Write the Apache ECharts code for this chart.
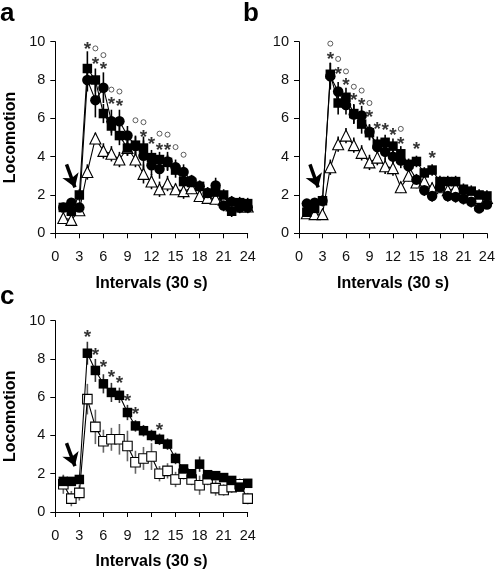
<!DOCTYPE html>
<html><head><meta charset="utf-8">
<script src="https://cdn.jsdelivr.net/npm/echarts@6/dist/echarts.min.js"></script>
<style>html,body{margin:0;padding:0;background:#fff}#c{width:498px;height:571px}</style>
</head><body><div id="c"></div>
<script>
const intervals = [1,2,3,4,5,6,7,8,9,10,11,12,13,14,15,16,17,18,19,20,21,22,23,24];
const xTicks = [0,3,6,9,12,15,18,21,24];
const yTicks = [0,2,4,6,8,10];

// Panel a
const aSquare = [1.35,1.15,2.0,8.6,8.0,6.25,5.6,5.1,4.45,4.6,4.45,3.95,3.85,3.7,3.3,2.7,2.65,2.45,2.1,2.15,2.0,1.15,1.6,1.55];
const aSquareErr = [0.2,0.2,0.3,0.9,0.6,0.5,0.5,0.5,0.4,0.5,0.6,0.4,0.4,0.4,0.4,0.3,0.3,0.3,0.3,0.3,0.3,0.3,0.3,0.3];
const aCircle = [1.35,1.6,1.35,8.0,6.95,7.6,5.85,5.85,5.1,4.55,4.05,3.55,3.35,3.75,3.45,3.2,2.75,2.45,2.1,2.5,1.45,1.65,1.35,1.35];
const aCircleErr = [0.2,0.2,0.2,0.6,0.9,0.8,0.6,0.6,0.5,0.5,0.8,0.5,0.5,0.5,0.4,0.4,0.3,0.3,0.3,0.4,0.3,0.3,0.3,0.3];
const aTriangle = [0.8,0.7,1.2,3.2,4.95,4.3,4.15,3.85,4.45,3.85,3.1,2.7,2.3,2.6,2.3,2.2,2.35,1.95,1.85,1.8,1.75,1.45,1.4,1.4];
const aTriangleErr = [0.2,0.2,0.2,0.4,0.3,0.4,0.4,0.4,0.4,0.4,0.5,0.4,0.4,0.4,0.3,0.4,0.3,0.3,0.3,0.3,0.3,0.3,0.3,0.3];
const aStarX = [4,5,6,7,8,11,12,13,14];
const aStarY = [9.8,9.0,8.75,6.9,6.8,5.2,4.85,4.5,4.5];
const aRingX = [4,5,6,7,8,10,11,13,14,15,16];
const aRingY = [10.5,9.65,9.3,7.5,7.4,5.9,5.8,5.2,5.15,4.5,4.1];

// Panel b
const bSquare = [1.1,1.3,1.7,8.3,6.8,7.1,6.25,5.7,5.25,4.65,4.75,4.55,4.15,3.6,3.75,3.15,3.3,2.7,2.7,2.7,2.3,2.2,2.0,1.95];
const bSquareErr = [0.2,0.3,0.3,0.6,0.6,0.5,0.5,0.5,0.4,0.4,0.4,0.4,0.4,0.3,0.3,0.3,0.3,0.3,0.3,0.3,0.3,0.3,0.3,0.3];
const bCircle = [1.55,1.6,1.7,8.2,7.4,6.7,6.2,6.15,5.3,4.5,4.25,4.0,3.8,3.5,2.8,2.25,1.95,2.4,1.95,1.9,1.8,1.65,1.3,1.5];
const bCircleErr = [0.2,0.2,0.2,0.7,0.5,0.5,0.5,0.5,0.4,0.4,0.4,0.4,0.4,0.3,0.3,0.3,0.3,0.3,0.3,0.3,0.3,0.3,0.2,0.2];
const bTriangle = [1.05,1.0,1.0,3.45,4.65,5.1,4.6,4.2,3.7,3.95,3.5,3.4,2.4,3.0,2.65,2.7,2.35,2.4,2.25,2.35,2.0,2.0,1.85,1.85];
const bTriangleErr = [0.1,0.1,0.1,0.4,0.4,0.4,0.4,0.4,0.4,0.4,0.4,0.4,0.3,0.3,0.3,0.3,0.3,0.3,0.3,0.3,0.3,0.3,0.3,0.3];
const bStarX = [4,5,6,7,8,9,10,11,12,13,15,17];
const bStarY = [9.25,8.5,7.9,7.15,6.85,6.25,5.6,5.55,5.3,4.85,4.55,4.1];
const bRingX = [4,5,6,7,8,9,13];
const bRingY = [9.9,9.1,8.45,7.65,7.45,6.8,5.45];

// Panel c
const cFilled = [1.6,1.6,1.7,8.3,7.4,6.7,6.25,6.1,5.2,4.5,4.25,4.0,3.8,3.55,2.8,2.25,2.0,2.5,1.95,1.9,1.8,1.65,1.3,1.5];
const cFilledErr = [0.3,0.2,0.2,0.6,0.6,0.5,0.5,0.4,0.4,0.3,0.3,0.3,0.3,0.3,0.3,0.2,0.2,0.4,0.2,0.2,0.2,0.2,0.2,0.2];
const cOpen = [1.45,0.7,1.0,5.9,4.45,3.7,3.8,3.8,3.45,2.6,2.8,2.9,2.0,2.15,1.7,2.0,1.7,1.4,1.7,1.25,1.15,1.3,1.45,0.7];
const cOpenErr = [0.5,0.4,0.4,0.8,0.9,0.6,0.6,0.8,0.8,0.6,0.6,0.7,0.4,0.4,0.4,0.3,0.3,0.5,0.3,0.4,0.3,0.3,0.3,0.3];
const cStarX = [4,5,6,7,8,9,10,13];
const cStarY = [9.3,8.35,7.75,7.2,6.9,5.95,5.3,4.45];

const arrowFrom = [1.4, 3.6];
const arrowTo = [2.45, 2.4];

const FONT = '"Liberation Sans", Arial, sans-serif';
const chart = echarts.init(document.getElementById('c'), null, {renderer:'canvas'});

const grids = [
  {left:55.3, top:41.7, width:192.4, height:191.6},
  {left:299, top:41.7, width:191.7, height:191.6},
  {left:55.3, top:320.7, width:192.4, height:192.6}
];
const xAxes = grids.map((g,i)=>({
  type:'value', gridIndex:i, min:xTicks[0], max:xTicks[xTicks.length-1], interval:3,
  axisLine:{lineStyle:{color:'#000',width:1}},
  axisTick:{show:true,inside:false,length:5,lineStyle:{color:'#000'}},
  axisLabel:{color:'#111',fontSize:14.5,fontFamily:FONT,margin:16},
  splitLine:{show:false},
  name:'Intervals (30 s)', nameLocation:'middle', nameGap:42,
  nameTextStyle:{fontSize:16,fontWeight:'bold',fontFamily:FONT,color:'#000'}
}));
const yAxes = grids.map((g,i)=>({
  type:'value', gridIndex:i, min:yTicks[0], max:yTicks[yTicks.length-1], interval:2,
  axisLine:{show:true,lineStyle:{color:'#000',width:1}},
  axisTick:{show:true,inside:false,length:5,lineStyle:{color:'#000'}},
  axisLabel:{color:'#111',fontSize:14.5,fontFamily:FONT,margin:10},
  splitLine:{show:false},
  name: i===1 ? '' : 'Locomotion', nameLocation:'middle', nameGap:37, nameRotate:90,
  nameTextStyle:{fontSize:16,fontWeight:'bold',fontFamily:FONT,color:'#000'}
}));

function pairs(xs, ys){ return xs.map((x,i)=>[x, ys[i]]); }

function errSeries(g, vals, errs, color){
  return {
    type:'custom', xAxisIndex:g, yAxisIndex:g, z:1, silent:true,
    data: intervals.map((x,i)=>[x, vals[i], errs[i]]),
    renderItem:function(params, api){
      const x=api.value(0), y=api.value(1), e=api.value(2);
      const p1=api.coord([x,y+e]), p2=api.coord([x,y-e]);
      return {type:'line', shape:{x1:p1[0],y1:p1[1],x2:p2[0],y2:p2[1]}, style:{stroke:color,lineWidth:1.6}};
    }
  };
}
function lineSeries(g, vals, symbol, filled, size, z){
  return {
    type:'line', xAxisIndex:g, yAxisIndex:g, z:z||3,
    data: pairs(intervals, vals),
    symbol:symbol, symbolSize:size, showSymbol:true, animation:false,
    itemStyle:{color: filled?'#000':'#fff', borderColor:'#000', borderWidth: filled?0:1.1},
    lineStyle:{color:'#000', width:1.1}
  };
}
function starSeries(g, xs, ys){
  return {
    type:'scatter', xAxisIndex:g, yAxisIndex:g, z:5, silent:true,
    data: pairs(xs, ys), symbolSize:1, itemStyle:{color:'rgba(0,0,0,0)'},
    label:{show:true, position:'inside', formatter:'*', fontSize:19, fontWeight:'bold', fontFamily:FONT, color:'#000', offset:[0,4]}
  };
}
function ringSeries(g, xs, ys){
  return {
    type:'scatter', xAxisIndex:g, yAxisIndex:g, z:5, silent:true,
    data: pairs(xs, ys), symbol:'circle', symbolSize:5,
    itemStyle:{color:'#fff', borderColor:'#222', borderWidth:0.9}
  };
}
function arrowSeries(g){
  return {
    type:'line', xAxisIndex:g, yAxisIndex:g, data:[], z:6,
    markLine:{silent:true, symbol:['none','arrow'], symbolSize:13, animation:false,
      label:{show:false}, lineStyle:{color:'#000', width:3.5, type:'solid'},
      emphasis:{disabled:true},
      data:[[{coord:arrowFrom},{coord:arrowTo}]]}
  };
}

const series = [
  errSeries(0, aTriangle, aTriangleErr, '#000'),
  errSeries(0, aSquare, aSquareErr, '#000'),
  errSeries(0, aCircle, aCircleErr, '#000'),
  lineSeries(0, aTriangle, 'triangle', false, 11, 3),
  lineSeries(0, aSquare, 'rect', true, 9.5, 4),
  lineSeries(0, aCircle, 'circle', true, 10.5, 4),
  starSeries(0, aStarX, aStarY), ringSeries(0, aRingX, aRingY), arrowSeries(0),

  errSeries(1, bTriangle, bTriangleErr, '#000'),
  errSeries(1, bSquare, bSquareErr, '#000'),
  errSeries(1, bCircle, bCircleErr, '#000'),
  lineSeries(1, bTriangle, 'triangle', false, 11, 3),
  lineSeries(1, bSquare, 'rect', true, 9.5, 4),
  lineSeries(1, bCircle, 'circle', true, 10.5, 4),
  starSeries(1, bStarX, bStarY), ringSeries(1, bRingX, bRingY), arrowSeries(1),

  errSeries(2, cOpen, cOpenErr, '#666'),
  errSeries(2, cFilled, cFilledErr, '#333'),
  lineSeries(2, cOpen, 'rect', false, 9.5, 3),
  lineSeries(2, cFilled, 'rect', true, 9.5, 4),
  starSeries(2, cStarX, cStarY), arrowSeries(2)
];

chart.setOption({
  animation:false,
  backgroundColor:'#fff',
  grid: grids,
  xAxis: xAxes,
  yAxis: yAxes,
  series: series,
  graphic:[
    {type:'text', left:0, top:1, style:{text:'a', font:'bold 26px '+FONT, fill:'#000'}},
    {type:'text', left:243, top:1, style:{text:'b', font:'bold 26px '+FONT, fill:'#000'}},
    {type:'text', left:0, top:284, style:{text:'c', font:'bold 26px '+FONT, fill:'#000'}}
  ]
});
</script></body></html>
